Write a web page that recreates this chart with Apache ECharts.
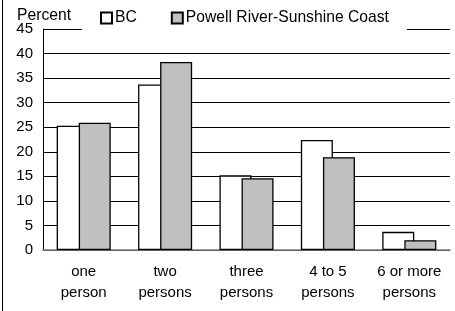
<!DOCTYPE html>
<html>
<head>
<meta charset="utf-8">
<script src="https://cdn.jsdelivr.net/npm/echarts@6/dist/echarts.min.js"></script>
<style>
  html, body { margin: 0; padding: 0; background: #fff; }
  #chart { width: 455px; height: 311px; }
</style>
</head>
<body>
<div id="chart"></div>
<script>
// categories along the bottom
let categories = ['one\nperson', 'two\npersons', 'three\npersons', '4 to 5\npersons', '6 or more\npersons'];
// percent of households by size
let bc_values = [25.3, 33.7, 15.2, 22.4, 3.7];
let prsc_values = [25.9, 38.3, 14.6, 18.9, 2.0];
let series_names = ['BC', 'Powell River-Sunshine Coast'];

let font = 'Arial, "Liberation Sans", sans-serif';

let chart = echarts.init(document.getElementById('chart'));
let option = {
    animation: false,
    backgroundColor: '#fff',
    textStyle: { fontFamily: font },
    grid: { left: 43, right: 5, top: 29, bottom: 61, containLabel: false },
    legend: {
        data: series_names,
        left: 82,
        top: 3,
        padding: [7, 18, 6, 18],
        backgroundColor: '#fff',
        itemWidth: 11,
        itemHeight: 11,
        itemGap: 34,
        icon: 'rect',
        z: 10,
        textStyle: { fontSize: 15.7, color: '#000', fontFamily: font, padding: [0, 0, 0, -2] }
    },
    graphic: [
        {
            type: 'text', left: 17, top: 8, z: 20,
            style: { text: 'Percent', font: '15.7px ' + font, fill: '#000' }
        },
        {
            type: 'line', z: 20,
            shape: { x1: 2.5, y1: 0, x2: 2.5, y2: 311 },
            style: { stroke: '#000', lineWidth: 1 }
        }
    ],
    xAxis: {
        type: 'category',
        data: categories,
        axisLine: { lineStyle: { color: '#808080', width: 1.5 } },
        axisTick: { show: false },
        axisLabel: { fontSize: 15, color: '#000', lineHeight: 21, margin: 11, interval: 0, fontFamily: font }
    },
    yAxis: {
        type: 'value',
        min: 0,
        max: 45,
        interval: 5,
        axisLine: { show: true, lineStyle: { color: '#000' } },
        axisTick: { show: false },
        axisLabel: { fontSize: 15, color: '#000', margin: 10, fontFamily: font },
        splitLine: { lineStyle: { color: '#000', width: 1 } }
    },
    series: [
        {
            name: series_names[0],
            type: 'bar',
            data: bc_values,
            barWidth: 32,
            barGap: '-31%',
            itemStyle: { color: '#fff', borderColor: '#000', borderWidth: 1.3 }
        },
        {
            name: series_names[1],
            type: 'bar',
            data: prsc_values,
            barWidth: 32,
            itemStyle: { color: '#c0c0c0', borderColor: '#000', borderWidth: 1.3 }
        }
    ]
};
chart.setOption(option);
</script>
</body>
</html>
